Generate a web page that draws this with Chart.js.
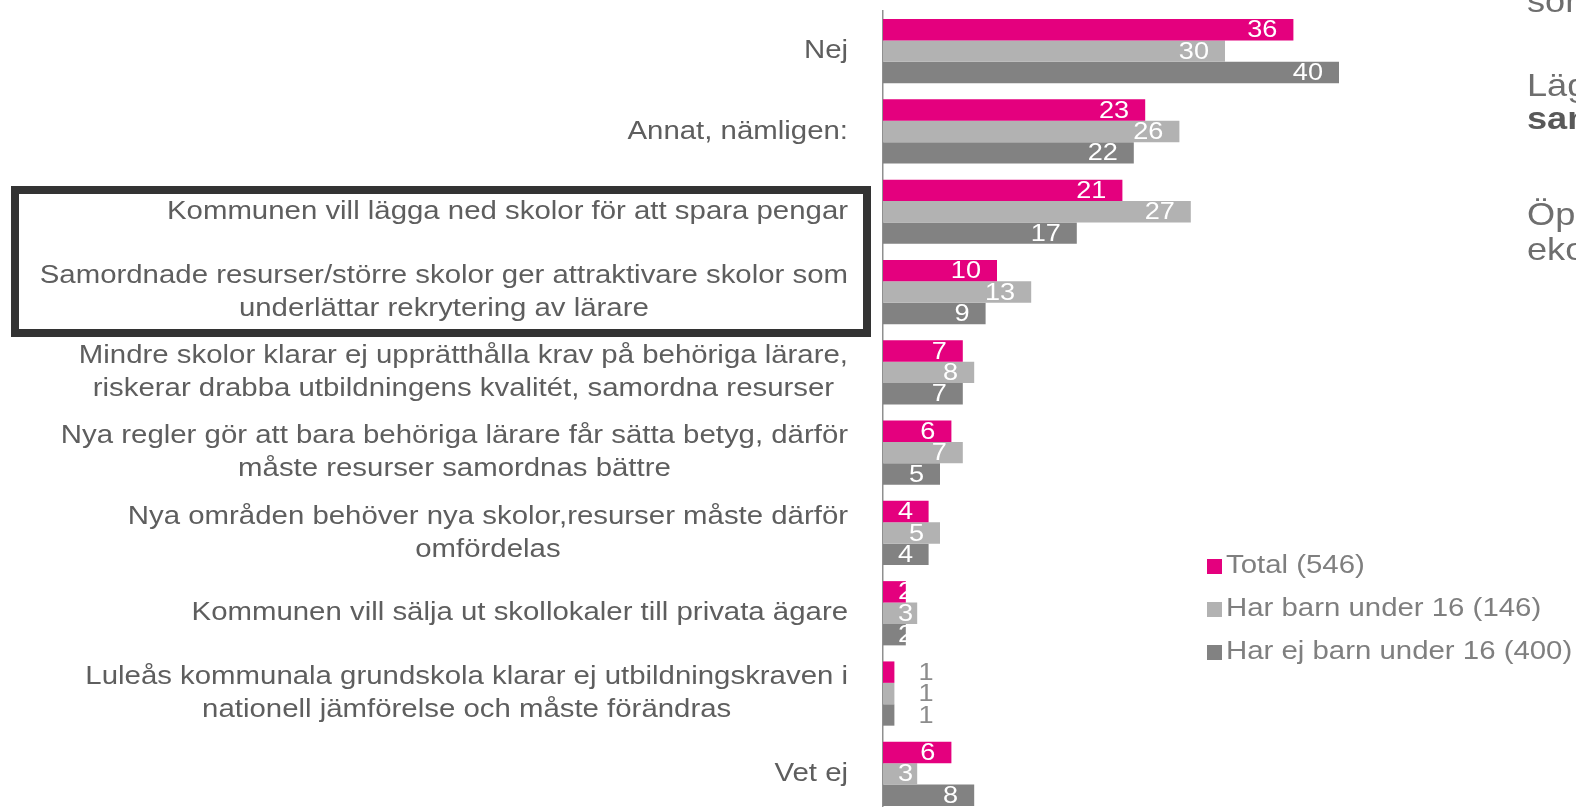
<!DOCTYPE html>
<html>
<head>
<meta charset="utf-8">
<script src="https://cdn.jsdelivr.net/npm/chart.js@4/dist/chart.umd.min.js"></script>
<style>
  html, body { margin: 0; padding: 0; background: #fff; overflow: hidden; }
  #wrap { position: absolute; left: 0; top: 0; width: 1576px; height: 816px; }
</style>
</head>
<body>
<div id="wrap"><canvas id="chart"></canvas></div>
<script>
const categories = [
  ['Nej'],
  ['Annat, nämligen:'],
  ['Kommunen vill lägga ned skolor för att spara pengar'],
  ['Samordnade resurser/större skolor ger attraktivare skolor som', 'underlättar rekrytering av lärare'],
  ['Mindre skolor klarar ej upprätthålla krav på behöriga lärare,', 'riskerar drabba utbildningens kvalitét, samordna resurser'],
  ['Nya regler gör att bara behöriga lärare får sätta betyg, därför', 'måste resurser samordnas bättre'],
  ['Nya områden behöver nya skolor,resurser måste därför', 'omfördelas'],
  ['Kommunen vill sälja ut skollokaler till privata ägare'],
  ['Luleås kommunala grundskola klarar ej utbildningskraven i', 'nationell jämförelse och måste förändras'],
  ['Vet ej']
];
const seriesNames = ['Total (546)', 'Har barn under 16 (146)', 'Har ej barn under 16 (400)'];
const total = [36, 23, 21, 10, 7, 6, 4, 2, 1, 6];
const withKids = [30, 26, 27, 13, 8, 7, 5, 3, 1, 3];
const withoutKids = [40, 22, 17, 9, 7, 5, 4, 2, 1, 8];
const seriesColors = ['#e4007e', '#b2b2b2', '#828282'];
const sideNotes = ['som', 'Läg', 'sam', 'Öp', 'eko'];

const FONT = '"Liberation Sans", Arial, sans-serif';
const SX = 1.13;   // the slide text is a bit wide, stretch it horizontally

function drawText(ctx, text, x, y) {
  ctx.save();
  ctx.translate(x, y);
  ctx.scale(SX, 1);
  ctx.fillText(text, 0, 0);
  ctx.restore();
}

// category labels on the left, block right aligned, lines centred
const categoryLabels = {
  id: 'categoryLabels',
  afterDraw(chart) {
    const {ctx} = chart;
    const y = chart.scales.y;
    ctx.save();
    ctx.font = '26px ' + FONT;
    ctx.fillStyle = '#5e5e5e';
    ctx.textAlign = 'center';
    ctx.textBaseline = 'middle';
    const right = 848, lh = 33;
    categories.forEach((lines, i) => {
      const cy = y.getPixelForValue(i);
      const w = Math.max(...lines.map(l => ctx.measureText(l).width)) * SX;
      lines.forEach((l, k) => {
        drawText(ctx, l, right - w / 2, cy + (k - (lines.length - 1) / 2) * lh);
      });
    });
    // highlight frame
    ctx.strokeStyle = '#333333';
    ctx.lineWidth = 8;
    ctx.strokeRect(15, 190, 852, 143);
    ctx.restore();
  }
};

// value labels: white inside the bar end, grey outside for tiny bars
const valueLabels = {
  id: 'valueLabels',
  afterDatasetsDraw(chart) {
    const {ctx} = chart;
    ctx.save();
    ctx.font = '24px ' + FONT;
    ctx.textAlign = 'left';
    ctx.textBaseline = 'middle';
    chart.data.datasets.forEach((ds, di) => {
      chart.getDatasetMeta(di).data.forEach((bar, i) => {
        const v = ds.data[i];
        const t = String(v);
        const w = ctx.measureText(t).width * SX;
        let x;
        if (v < 2) {
          x = bar.x + 24;
          ctx.fillStyle = '#8c8c8c';
        } else {
          x = Math.max(bar.x - 16 - w, bar.base + 15);
          ctx.fillStyle = '#ffffff';
        }
        drawText(ctx, t, x, bar.y + 1);
      });
    });
    ctx.restore();
  }
};

const legendBox = {
  id: 'legendBox',
  afterDraw(chart) {
    const {ctx} = chart;
    ctx.save();
    ctx.font = '26px ' + FONT;
    ctx.textAlign = 'left';
    ctx.textBaseline = 'middle';
    chart.data.datasets.forEach((ds, i) => {
      const cy = 566 + i * 43;
      ctx.fillStyle = ds.backgroundColor;
      ctx.fillRect(1207, cy - 7, 15, 15);
      ctx.fillStyle = '#7f7f7f';
      drawText(ctx, ds.label, 1226, cy);
    });
    ctx.restore();
  }
};

// cut-off text from the slide's side panel
const sidePanel = {
  id: 'sidePanel',
  afterDraw(chart) {
    const {ctx} = chart;
    const baselines = [12, 96, 129, 225, 260];
    ctx.save();
    ctx.textAlign = 'left';
    ctx.textBaseline = 'alphabetic';
    sideNotes.forEach((t, i) => {
      const bold = i === 2;
      ctx.font = (bold ? 'bold ' : '') + '32px ' + FONT;
      ctx.fillStyle = bold ? '#595959' : '#6e6e6e';
      drawText(ctx, t, 1527, baselines[i]);
    });
    ctx.restore();
  }
};

const series = [total, withKids, withoutKids];

new Chart(document.getElementById('chart'), {
  type: 'bar',
  data: {
    labels: categories,
    datasets: series.map((d, i) => ({
      label: seriesNames[i],
      data: d,
      backgroundColor: seriesColors[i],
      barPercentage: 1,
      categoryPercentage: 0.8
    }))
  },
  options: {
    indexAxis: 'y',
    responsive: true,
    maintainAspectRatio: false,
    animation: false,
    layout: {padding: {left: 882, right: 9, top: 11, bottom: 2}},
    scales: {
      x: {display: false, min: 0, max: 60},
      y: {
        ticks: {display: false},
        grid: {display: false, drawTicks: false},
        border: {display: true, color: '#8f8f8f', width: 1.5},
        afterFit: s => { s.width = 1; }
      }
    },
    plugins: {
      legend: {display: false},
      tooltip: {enabled: false}
    }
  },
  plugins: [categoryLabels, valueLabels, legendBox, sidePanel]
});
</script>
</body>
</html>
